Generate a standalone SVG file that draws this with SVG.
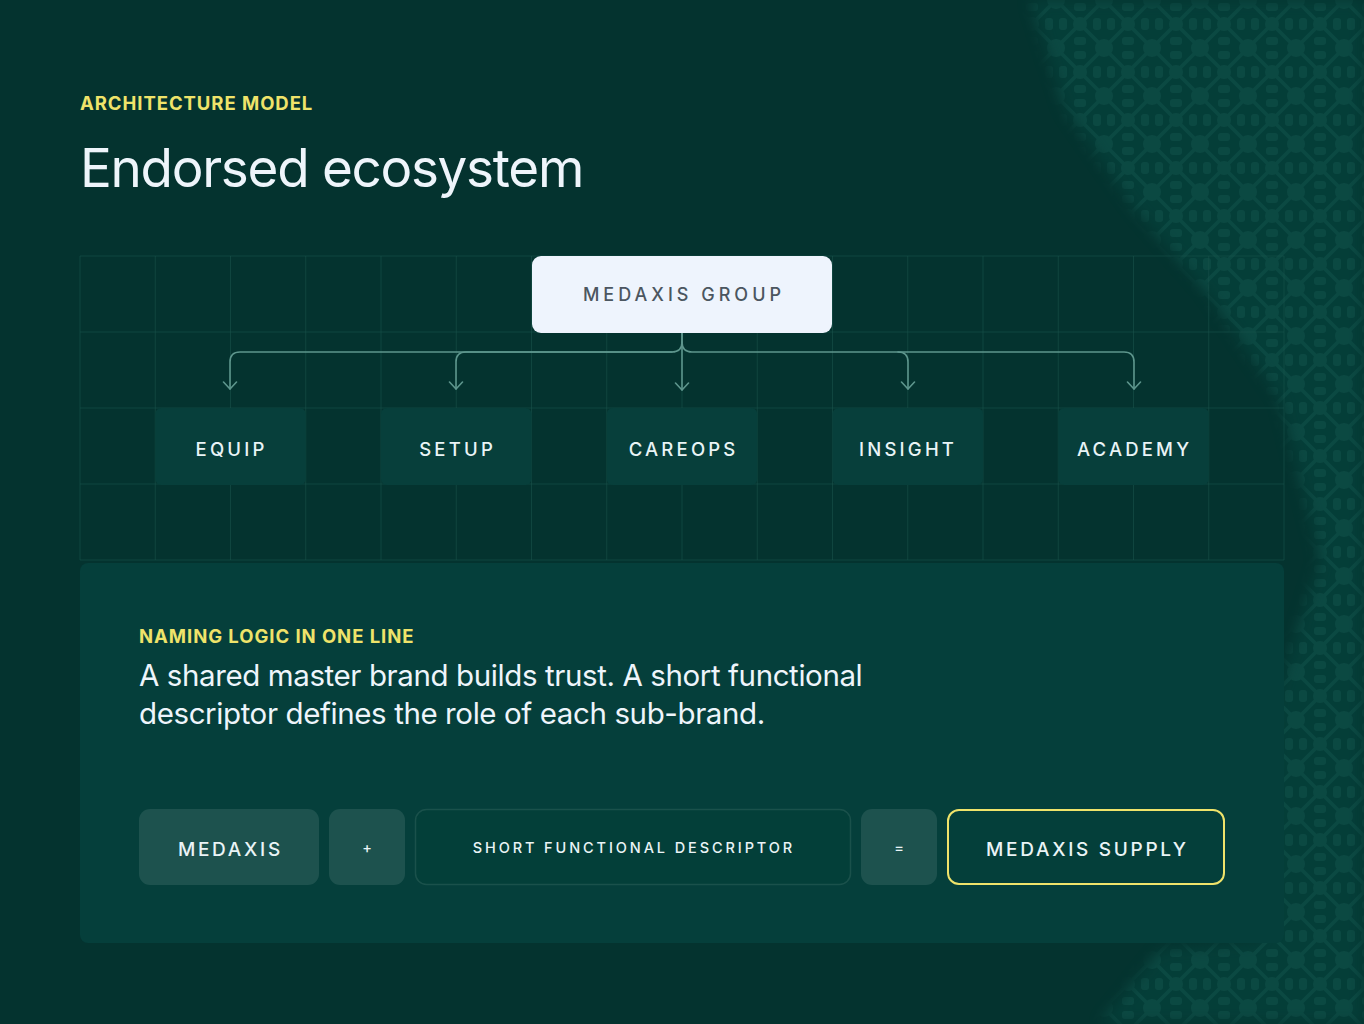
<svg xmlns="http://www.w3.org/2000/svg" width="1364" height="1024" viewBox="0 0 1364 1024">
  <defs>
    <style>
      .eyebrow { font-family: Inter, "Liberation Sans", sans-serif; font-weight: 700; font-size: 18.5px; fill: #efe36a; letter-spacing: 0.95px; }
      .title { font-family: Inter, "Liberation Sans", sans-serif; font-weight: 400; font-size: 53px; fill: #eef5fb; letter-spacing: -1.3px; }
      .body { font-family: Inter, "Liberation Sans", sans-serif; font-weight: 400; font-size: 29.5px; fill: #eef5fb; letter-spacing: -0.4px; }
      .grid { stroke: #1b534d; stroke-width: 1; opacity: 0.55; fill: none; }
      .root { fill: #eef4fd; }
      .rootlabel { font-family: Inter, "Liberation Sans", sans-serif; font-weight: 500; font-size: 18px; fill: #4b5660; letter-spacing: 4px; text-anchor: middle; }
      .sub { fill: #073f3b; }
      .sublabel { font-family: Inter, "Liberation Sans", sans-serif; font-weight: 500; font-size: 18.5px; fill: #e9f4f6; letter-spacing: 3.2px; text-anchor: middle; }
      .conn { fill: none; stroke: #5e968d; stroke-width: 1.6; stroke-linecap: round; stroke-linejoin: round; }
      .panel { fill: #053f3b; }
      .chip { fill: #1d524e; }
      .chipdark { fill: #033f39; stroke: #1a514b; stroke-width: 1.5; }
      .chipresult { fill: #043f3a; stroke: #efe36a; stroke-width: 2; }
      .chiplabel { font-family: Inter, "Liberation Sans", sans-serif; font-weight: 500; font-size: 19px; fill: #eaf4f6; letter-spacing: 2.7px; text-anchor: middle; }
      .chipsmall { font-family: Inter, "Liberation Sans", sans-serif; font-weight: 500; font-size: 14.5px; fill: #eaf4f6; letter-spacing: 2.9px; text-anchor: middle; }
      .lace { fill: none; stroke: #0d4d46; stroke-width: 3.5; }
      .laced { fill: #0d4d46; }
    </style>
    <marker id="chev" viewBox="0 0 10 16" markerWidth="10" markerHeight="16" refX="9" refY="8" orient="auto" markerUnits="userSpaceOnUse">
      <path d="M2,1.5 L9,8 L2,14.5" fill="none" stroke="#5e968d" stroke-width="1.6" stroke-linecap="round" stroke-linejoin="round"/>
    </marker>
    <pattern id="lacePat" x="0" y="0" width="48" height="48" patternUnits="userSpaceOnUse">
      <rect width="48" height="48" fill="#05403a"/>
      <path class="lace" d="M0,0 L48,48 M48,0 L0,48"/>
      <circle class="laced" cx="0" cy="0" r="9"/>
      <circle class="laced" cx="48" cy="0" r="9"/>
      <circle class="laced" cx="0" cy="48" r="9"/>
      <circle class="laced" cx="48" cy="48" r="9"/>
      <circle class="laced" cx="24" cy="24" r="7"/>
      <rect x="18" y="3" width="12" height="8" rx="3" class="laced"/>
      <rect x="18" y="37" width="12" height="8" rx="3" class="laced"/>
      <rect x="3" y="18" width="8" height="12" rx="3" class="laced"/>
      <rect x="37" y="18" width="8" height="12" rx="3" class="laced"/>
    </pattern>
    <filter id="soft" x="-10%" y="-10%" width="120%" height="120%">
      <feGaussianBlur stdDeviation="7"/>
    </filter>
    <mask id="laceMask">
      <path d="M1030,0 L1364,0 L1364,1024 L1100,1024 L1160,950 L1260,940 L1275,700 L1320,560 L1280,400 L1205,290 L1135,210 L1065,110 Z" fill="#fff" filter="url(#soft)"/>
    </mask>
  </defs>

  <rect width="1364" height="1024" fill="#04332f"/>
  <rect width="1364" height="1024" fill="url(#lacePat)" mask="url(#laceMask)" opacity="0.85"/>

  <g id="header">
    <text class="eyebrow" x="80" y="110">ARCHITECTURE MODEL</text>
    <text class="title" x="80" y="187">Endorsed ecosystem</text>
  </g>

  <g id="grid">
    <path class="grid" d="M80,256 H1284 M80,332 H1284 M80,408 H1284 M80,484 H1284 M80,560 H1284
      M80,256 V560 M155.25,256 V560 M230.5,256 V560 M305.75,256 V560 M381,256 V560 M456.25,256 V560 M531.5,256 V560 M606.75,256 V560 M682,256 V560 M757.25,256 V560 M832.5,256 V560 M907.75,256 V560 M983,256 V560 M1058.25,256 V560 M1133.5,256 V560 M1208.75,256 V560 M1284,256 V560"/>
  </g>

  <g id="connectors">
    <path class="conn" d="M682,333 V342 Q682,352 672,352 H240 Q230,352 230,362 V389" marker-end="url(#chev)"/>
    <path class="conn" d="M672,352 H466 Q456,352 456,362 V389" marker-end="url(#chev)"/>
    <path class="conn" d="M682,333 V390" marker-end="url(#chev)"/>
    <path class="conn" d="M682,342 Q682,352 692,352 H898 Q908,352 908,362 V389" marker-end="url(#chev)"/>
    <path class="conn" d="M898,352 H1124 Q1134,352 1134,362 V389" marker-end="url(#chev)"/>
  </g>

  <g id="node-medaxis-group">
    <rect class="root" x="532" y="256" width="300" height="77" rx="9"/>
    <text class="rootlabel" x="684" y="301">MEDAXIS GROUP</text>
  </g>

  <g id="node-equip">
    <rect class="sub" x="155.25" y="408" width="150.5" height="77" rx="6"/>
    <text class="sublabel" x="231.6" y="456">EQUIP</text>
  </g>
  <g id="node-setup">
    <rect class="sub" x="381" y="408" width="150.5" height="77" rx="6"/>
    <text class="sublabel" x="457.6" y="456">SETUP</text>
  </g>
  <g id="node-careops">
    <rect class="sub" x="606.75" y="408" width="150.5" height="77" rx="6"/>
    <text class="sublabel" x="683.6" y="456">CAREOPS</text>
  </g>
  <g id="node-insight">
    <rect class="sub" x="832.5" y="408" width="150.5" height="77" rx="6"/>
    <text class="sublabel" x="908.1" y="456">INSIGHT</text>
  </g>
  <g id="node-academy">
    <rect class="sub" x="1058.25" y="408" width="150.5" height="77" rx="6"/>
    <text class="sublabel" x="1134.6" y="456">ACADEMY</text>
  </g>

  <g id="naming-panel">
    <rect class="panel" x="80" y="563" width="1204" height="380" rx="8"/>
    <text class="eyebrow" x="139" y="643">NAMING LOGIC IN ONE LINE</text>
    <text class="body" x="139" y="686">A shared master brand builds trust. A short functional</text>
    <text class="body" x="139" y="724">descriptor defines the role of each sub-brand.</text>
  </g>

  <g id="chip-medaxis">
    <rect class="chip" x="139" y="809" width="180" height="76" rx="11"/>
    <text class="chiplabel" x="230.4" y="856">MEDAXIS</text>
  </g>
  <g id="chip-plus">
    <rect class="chip" x="329" y="809" width="76" height="76" rx="11"/>
    <text class="chipsmall" x="368.5" y="853">+</text>
  </g>
  <g id="chip-descriptor">
    <rect class="chipdark" x="415.5" y="809.5" width="435" height="75" rx="11"/>
    <text class="chipsmall" x="633.9" y="853">SHORT FUNCTIONAL DESCRIPTOR</text>
  </g>
  <g id="chip-equals">
    <rect class="chip" x="861" y="809" width="76" height="76" rx="11"/>
    <text class="chipsmall" x="900.5" y="853">=</text>
  </g>
  <g id="chip-result">
    <rect class="chipresult" x="948" y="810" width="276" height="74" rx="11"/>
    <text class="chiplabel" x="1087.4" y="856">MEDAXIS SUPPLY</text>
  </g>
</svg>
